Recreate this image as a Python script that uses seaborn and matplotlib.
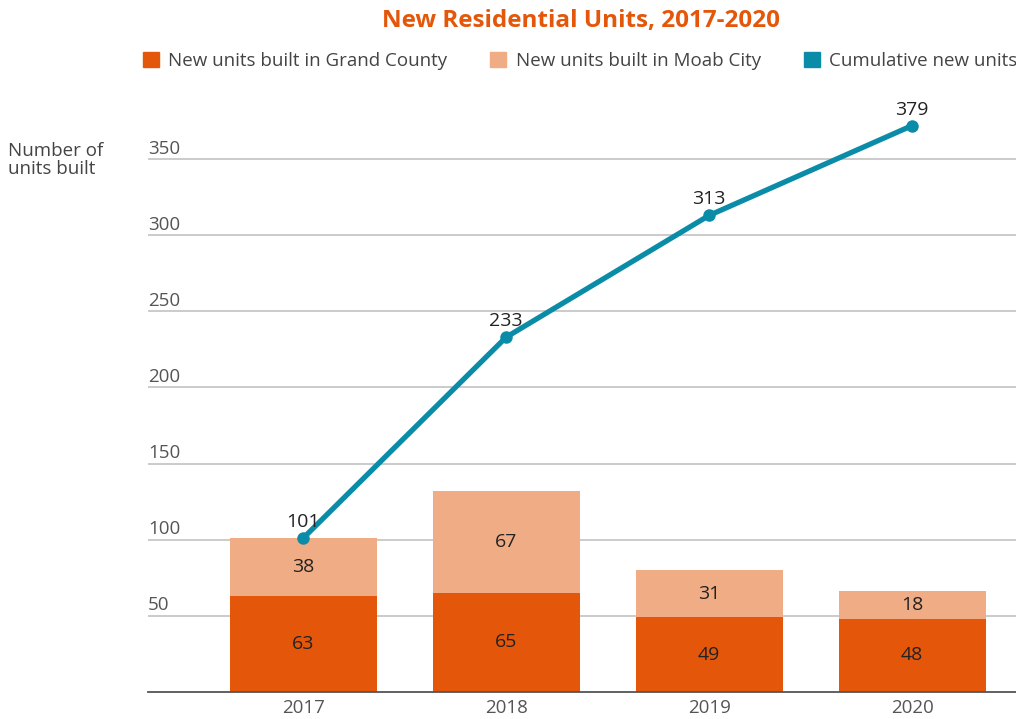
import numpy as np
import pandas as pd
import matplotlib.pyplot as plt
import seaborn as sns
from matplotlib.patches import Patch

# data
years = ['2017', '2018', '2019', '2020']
grand_county = [63, 65, 49, 48]
moab_city = [38, 67, 31, 18]
cumulative = [101, 233, 313, 372]          # plotted positions as drawn
cumulative_labels = ['101', '233', '313', '379']
y_ticks = [50, 100, 150, 200, 250, 300, 350]

dark_orange = '#E4570A'
light_orange = '#F0AC84'
teal = '#0A8CA8'

sns.set_theme(style='white')
plt.rcParams['font.family'] = ['Open Sans', 'DejaVu Sans']

df = pd.DataFrame({'year': years, 'grand': grand_county, 'moab': moab_city})
df['total'] = df['grand'] + df['moab']

fig = plt.figure(figsize=(10.16, 7.19), dpi=100)
ax = fig.add_axes([0.1457, 0.0376, 0.8543, 0.847])

# stacked bars: totals first (light), grand county over it (dark)
sns.barplot(data=df, x='year', y='total', order=years, color=light_orange,
            saturation=1, width=0.724, linewidth=0, ax=ax, zorder=2)
sns.barplot(data=df, x='year', y='grand', order=years, color=dark_orange,
            saturation=1, width=0.724, linewidth=0, ax=ax, zorder=2)

line_df = pd.DataFrame({'x': np.arange(len(years)), 'y': cumulative})
sns.lineplot(data=line_df, x='x', y='y', color=teal, lw=3.8, marker='o',
             markersize=9, markeredgewidth=0, ax=ax, zorder=4)

ax.set_xlim(-0.764, 3.512)
ax.set_ylim(0, 400)

# grid lines with labels sitting on top, at the left
for t in y_ticks:
    ax.axhline(t, color='#BDBDBD', lw=1.1, zorder=1)
    ax.annotate(str(t), xy=(0, t), xycoords=('axes fraction', 'data'),
                xytext=(0, 1), textcoords='offset points', ha='left', va='bottom',
                fontsize=13.5, color='#555555')
ax.set_yticks([])

ax.set_xlabel('')
ax.set_ylabel('')
ax.tick_params(axis='x', length=0, labelsize=13.5, labelcolor='#555555', pad=5)
for s in ['top', 'right', 'left']:
    ax.spines[s].set_visible(False)
ax.spines['bottom'].set_color('#555555')
ax.spines['bottom'].set_linewidth(1.3)

# segment labels
for i in range(len(years)):
    g = df['grand'][i]
    m = df['moab'][i]
    ax.text(i, g / 2, str(g), ha='center', va='center', fontsize=14, color='#222222', zorder=5)
    ax.text(i, g + m / 2, str(m), ha='center', va='center', fontsize=14, color='#222222', zorder=5)
    ax.annotate(cumulative_labels[i], xy=(i, cumulative[i]), xytext=(0, 5),
                textcoords='offset points', ha='center', va='bottom',
                fontsize=14, color='#222222', zorder=5)

fig.text(581 / 1016, 1 - 21 / 719, 'New Residential Units, 2017-2020', ha='center',
         va='center', fontsize=17.5, fontweight='bold', color=dark_orange)

handles = [Patch(color=dark_orange), Patch(color=light_orange), Patch(color=teal)]
labels = ['New units built in Grand County', 'New units built in Moab City', 'Cumulative new units']
fig.legend(handles, labels, loc='center', bbox_to_anchor=(580 / 1016, 1 - 61 / 719), ncol=3,
           frameon=False, fontsize=13.5, labelcolor='#444444', handlelength=0.85,
           handleheight=0.85, handletextpad=0.5, columnspacing=2.3, borderpad=0)

fig.text(8 / 1016, 1 - 160 / 719, 'Number of\nunits built', ha='left', va='center',
         fontsize=13.5, color='#444444', linespacing=1.05)

fig.savefig('out.png', dpi=100)
